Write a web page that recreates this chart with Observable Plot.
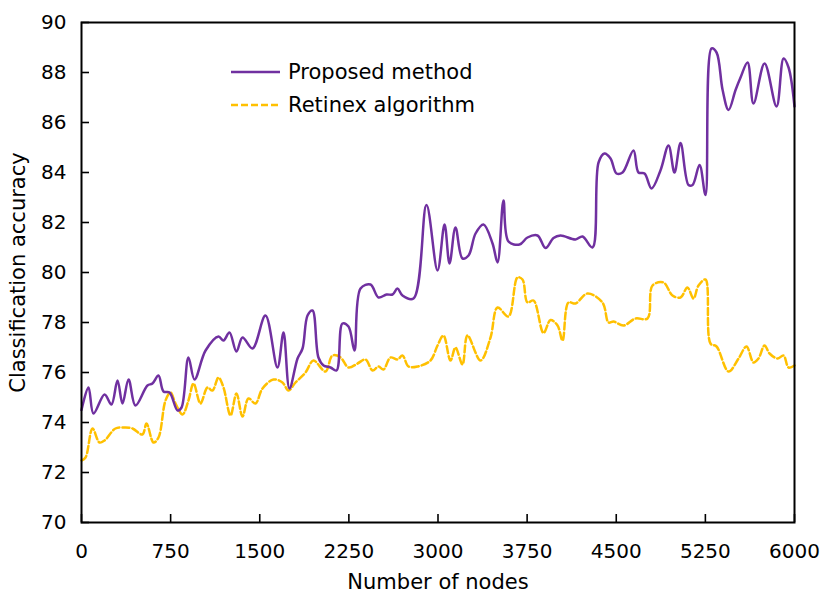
<!DOCTYPE html>
<html><head><meta charset="utf-8">
<script src="https://cdn.jsdelivr.net/npm/d3@7"></script>
<script src="https://cdn.jsdelivr.net/npm/@observablehq/plot@0.6"></script>
<style>
body{margin:0;background:#fff;}
#wrap{position:relative;width:822px;height:593px;font-family:"DejaVu Sans",sans-serif;}
#legend{position:absolute;left:0;top:0;pointer-events:none;}
</style>
</head><body><div id="wrap"><div id="chart"></div></div>
<script>
const xTicks = [0, 750, 1500, 2250, 3000, 3750, 4500, 5250, 6000];
const yTicks = [70, 72, 74, 76, 78, 80, 82, 84, 86, 88, 90];
const seriesNames = ["Proposed method", "Retinex algorithm"];
const seriesColors = ["#7030A0", "#FFC000"];

const proposedNodes = [0,59,101,194,252,303,345,396,454,555,597,648,690,741,808,842,900,951,1044,1153,1195,1245,1304,1355,1439,1548,1649,1700,1750,1818,1860,1902,1944,1994,2037,2095,2146,2196,2247,2297,2348,2432,2499,2567,2617,2659,2701,2794,2903,2996,3055,3097,3147,3206,3257,3316,3383,3459,3501,3551,3593,3686,3753,3837,3905,3972,4031,4157,4216,4300,4351,4401,4452,4502,4553,4645,4687,4738,4797,4872,4940,4990,5041,5108,5142,5201,5251,5302,5344,5395,5445,5504,5546,5605,5655,5748,5849,5908,5950,6000];
const proposedAcc = [74.5,75.4,74.36,75.12,74.72,75.68,74.76,75.72,74.68,75.48,75.56,75.88,75.24,75.2,74.48,74.6,76.6,75.72,76.88,77.44,77.28,77.6,76.84,77.4,76.96,78.28,76.2,77.6,75.36,76.56,76.96,78.28,78.48,76.6,76.28,76.2,76.08,77.96,77.84,76.88,79.36,79.52,79.0,79.12,79.12,79.36,79.08,78.96,82.7,80.08,81.92,80.36,81.8,80.56,80.68,81.56,81.92,81.16,80.4,82.88,81.24,81.12,81.4,81.48,80.98,81.38,81.48,81.32,81.44,81.0,84.4,84.76,84.56,83.96,84.0,84.88,84.0,83.96,83.36,84.08,85.08,84.0,85.18,83.5,83.5,84.3,83.1,88.96,88.8,87.3,86.5,87.3,87.8,88.4,86.76,88.36,86.64,88.56,88.2,86.64];

const retinexNodes = [0,34,93,151,194,286,370,429,513,547,606,648,707,749,791,850,900,943,1001,1060,1102,1153,1195,1254,1304,1355,1405,1464,1523,1616,1691,1742,1801,1885,1952,2053,2112,2180,2247,2323,2390,2449,2499,2541,2600,2659,2701,2752,2828,2937,2996,3046,3105,3147,3206,3248,3358,3442,3501,3593,3669,3711,3753,3804,3888,3947,4006,4048,4098,4157,4258,4384,4435,4477,4561,4662,4763,4805,4898,4973,5041,5099,5150,5192,5251,5293,5344,5445,5529,5596,5655,5697,5748,5790,5857,5908,5950,6000];
const retinexAcc = [72.48,72.6,73.76,73.2,73.28,73.76,73.8,73.76,73.52,73.96,73.2,73.4,74.88,75.2,74.76,74.32,74.88,75.56,74.76,75.4,75.28,75.8,75.4,74.28,75.16,74.24,74.96,74.76,75.36,75.72,75.6,75.28,75.6,76.0,76.48,76.04,76.68,76.6,76.2,76.36,76.52,76.08,76.24,76.12,76.6,76.52,76.68,76.24,76.24,76.48,77.08,77.48,76.48,77.0,76.32,77.48,76.48,77.4,78.6,78.24,79.8,79.72,78.8,78.88,77.58,78.1,77.88,77.28,78.8,78.76,79.16,78.8,78.0,78.04,77.88,78.16,78.16,79.48,79.6,79.08,79.0,79.4,78.96,79.48,79.72,77.16,77.04,76.04,76.56,77.04,76.4,76.56,77.08,76.76,76.56,76.68,76.2,76.28];

const proposed = proposedNodes.map((n, i) => ({n, v: proposedAcc[i]}));
const retinex = retinexNodes.map((n, i) => ({n, v: retinexAcc[i]}));

const W = 822, H = 593, mL = 81, mR = 28, mT = 22, mB = 71;
const innerW = W - mL - mR, innerH = H - mT - mB;
const tickLen = 8;

const chart = Plot.plot({
  width: W, height: H,
  marginLeft: mL, marginRight: mR, marginTop: mT, marginBottom: mB,
  style: {fontFamily: "DejaVu Sans, sans-serif", fontSize: "20px", color: "#000", background: "#fff"},
  x: {domain: [0, 6000]},
  y: {domain: [70, 90]},
  marks: [
    Plot.line(retinex, {x: "n", y: "v", stroke: seriesColors[1], strokeWidth: 2.5, strokeDasharray: "7,3", curve: "catmull-rom"}),
    Plot.line(proposed, {x: "n", y: "v", stroke: seriesColors[0], strokeWidth: 2.5, curve: "catmull-rom"}),
    Plot.frame({stroke: "#000", strokeWidth: 2}),
    Plot.tickX(xTicks, {x: d => d, insetTop: innerH - tickLen, stroke: "#000", strokeWidth: 1.6}),
    Plot.tickY(yTicks, {y: d => d, insetRight: innerW - tickLen, stroke: "#000", strokeWidth: 1.6}),
    Plot.axisX({ticks: xTicks, tickSize: 0, tickPadding: 21, fontSize: 20, label: null, tickFormat: d => String(d)}),
    Plot.axisY({ticks: yTicks, tickSize: 0, tickPadding: 15, fontSize: 20, label: null, tickFormat: d => String(d)}),
    Plot.text(["Number of nodes"], {frameAnchor: "bottom", dy: 66, fontSize: 21, fill: "#000"}),
    Plot.text(["Classification accuracy"], {frameAnchor: "left", rotate: -90, dx: -63, textAnchor: "middle", lineAnchor: "middle", fontSize: 21, fill: "#000"})
  ]
});
document.getElementById("chart").appendChild(chart);

// Legend overlay
const legend = d3.select("#wrap").append("svg").attr("id", "legend").attr("width", W).attr("height", H);
const legendY = [72, 105];
seriesNames.forEach((name, i) => {
  const g = legend.append("g");
  g.append("line").attr("x1", 231).attr("x2", 280).attr("y1", legendY[i]).attr("y2", legendY[i])
    .attr("stroke", seriesColors[i]).attr("stroke-width", 2.5)
    .attr("stroke-dasharray", i === 1 ? "7,3" : null);
  g.append("text").attr("x", 288).attr("y", legendY[i]).attr("dy", "0.35em")
    .attr("font-family", "DejaVu Sans, sans-serif").attr("font-size", 21).attr("fill", "#000")
    .text(name);
});
</script>
</body></html>
